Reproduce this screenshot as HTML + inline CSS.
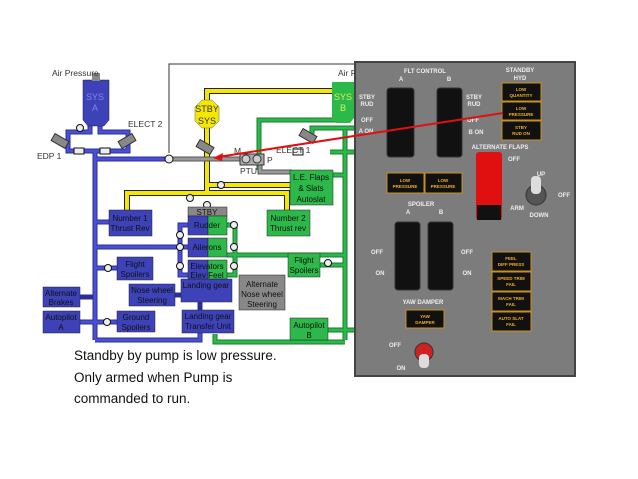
<!DOCTYPE html>
<html><head><meta charset="utf-8"><style>
body{margin:0;background:#fff;width:638px;height:479px;overflow:hidden}
svg{display:block}
text{font-family:"Liberation Sans",sans-serif}
.p{font-family:"Liberation Mono",monospace;fill:#eee;font-size:6px;font-weight:bold}
.a{font-family:"Liberation Mono",monospace;fill:#f0b020;font-size:4.5px;font-weight:bold}
</style></head><body>
<svg width="638" height="479" viewBox="0 0 638 479">
<polyline points="169,153 169,64 360,64" fill="none" stroke="#333" stroke-width="1"/>
<g fill="none" stroke="#222" stroke-width="6">
<polyline points="207,100 207,91 335,91"/>
<line x1="207" y1="128" x2="207" y2="195"/>
<line x1="207" y1="185" x2="292" y2="185"/>
<polyline points="127,212 127,193 287,193 287,212"/>
</g>
<g fill="none" stroke="#f5e800" stroke-width="4">
<polyline points="207,100 207,91 335,91"/>
<line x1="207" y1="128" x2="207" y2="195"/>
<line x1="207" y1="185" x2="292" y2="185"/>
<polyline points="127,212 127,193 287,193 287,212"/>
</g>
<g fill="none" stroke="#1a7a30" stroke-width="5">
<polyline points="259,170 259,120 340,120"/>
<polyline points="312,135 312,128 355,128"/>
<line x1="345" y1="130" x2="345" y2="340"/>
<line x1="330" y1="152" x2="355" y2="152"/>
<polyline points="330,175 345,175"/>
<line x1="227" y1="255" x2="345" y2="255"/>
<polyline points="227,225 235,225 235,275 227,275"/>
<line x1="320" y1="265" x2="345" y2="265"/>
<line x1="328" y1="330" x2="355" y2="330"/>
<polyline points="215,334 215,342 345,342"/>
</g>
<g fill="none" stroke="#2db84a" stroke-width="3">
<polyline points="259,170 259,120 340,120"/>
<polyline points="312,135 312,128 355,128"/>
<line x1="345" y1="130" x2="345" y2="340"/>
<line x1="330" y1="152" x2="355" y2="152"/>
<polyline points="330,175 345,175"/>
<line x1="227" y1="255" x2="345" y2="255"/>
<polyline points="227,225 235,225 235,275 227,275"/>
<line x1="320" y1="265" x2="345" y2="265"/>
<line x1="328" y1="330" x2="355" y2="330"/>
<polyline points="215,334 215,342 345,342"/>
</g>
<g fill="none" stroke="#555" stroke-width="5">
<line x1="169" y1="159" x2="240" y2="159"/>
<polyline points="235,159 260,159 260,172 292,172"/>
<polyline points="250,298 250,290 258,290"/>
</g>
<g fill="none" stroke="#999" stroke-width="3">
<line x1="169" y1="159" x2="240" y2="159"/>
<polyline points="235,159 260,159 260,172 292,172"/>
</g>
<g fill="none" stroke="#2a2e9a" stroke-width="5">
<polyline points="90,123 90,132 68,132 68,151 128,151 128,132 100,132 100,123"/>
<line x1="95" y1="151" x2="95" y2="340"/>
<line x1="95" y1="159" x2="169" y2="159"/>
<line x1="95" y1="222" x2="109" y2="222"/>
<line x1="95" y1="247" x2="188" y2="247"/>
<line x1="95" y1="268" x2="117" y2="268"/>
<line x1="80" y1="297" x2="95" y2="297"/>
<line x1="80" y1="322" x2="117" y2="322"/>
<polyline points="95,340 200,340 200,333"/>
<polyline points="188,225 180,225 180,275 188,275"/>
<line x1="200" y1="302" x2="200" y2="310"/>
<line x1="175" y1="295" x2="181" y2="295"/>
</g>
<g fill="none" stroke="#4a50d0" stroke-width="3">
<polyline points="90,123 90,132 68,132 68,151 128,151 128,132 100,132 100,123"/>
<line x1="95" y1="151" x2="95" y2="340"/>
<line x1="95" y1="159" x2="169" y2="159"/>
<line x1="95" y1="222" x2="109" y2="222"/>
<line x1="95" y1="247" x2="188" y2="247"/>
<line x1="95" y1="268" x2="117" y2="268"/>
<line x1="80" y1="322" x2="117" y2="322"/>
<polyline points="95,340 200,340 200,333"/>
<polyline points="188,225 180,225 180,275 188,275"/>
</g>
<g fill="#eee" stroke="#111" stroke-width="1">
<circle cx="169" cy="159" r="4"/><circle cx="80" cy="128" r="3.5"/>
<circle cx="190" cy="198" r="3.5"/><circle cx="207" cy="205" r="3.5"/>
<circle cx="221" cy="185" r="3.5"/><circle cx="180" cy="235" r="3.5"/>
<circle cx="180" cy="247" r="3.5"/><circle cx="180" cy="266" r="3.5"/>
<circle cx="234" cy="225" r="3.5"/><circle cx="234" cy="247" r="3.5"/>
<circle cx="234" cy="266" r="3.5"/><circle cx="108" cy="268" r="3.5"/>
<circle cx="107" cy="322" r="3.5"/><circle cx="328" cy="263" r="3.5"/>
<rect x="74" y="148" width="10" height="6"/><rect x="100" y="148" width="10" height="6"/>
<rect x="293" y="149" width="10" height="6"/>
</g>
<g fill="#888" stroke="#333" stroke-width="1">
<rect x="52" y="137" width="16" height="8" transform="rotate(30 60 141)"/>
<rect x="119" y="137" width="16" height="8" transform="rotate(-30 127 141)"/>
<rect x="197" y="143" width="16" height="8" transform="rotate(30 205 147)"/>
<rect x="300" y="132" width="16" height="8" transform="rotate(30 308 136)"/>
<rect x="240" y="154" width="24" height="11" fill="#aaa"/>
<circle cx="246" cy="159" r="4" fill="#ccc"/><circle cx="257" cy="159" r="4" fill="#ccc"/>
</g>
<path d="M83,80 h26 v40 l-5,6 h-16 l-5,-6z" fill="#3d42b8" stroke="#222" stroke-width="0.5"/>
<rect x="92" y="73" width="8" height="8" fill="#888"/>
<text x="95" y="100" text-anchor="middle" font-size="9" fill="#7f86ee">SYS</text>
<text x="95" y="111" text-anchor="middle" font-size="9" fill="#7f86ee">A</text>
<path d="M332,82 h22 v36 l-4,5 h-14 l-4,-5z" fill="#2db84a"/>
<text x="343" y="100" text-anchor="middle" font-size="9" fill="#d8f060">SYS</text>
<text x="343" y="111" text-anchor="middle" font-size="9" fill="#d8f060">B</text>
<path d="M195,107 l7,-7 h10 l7,7 v14 l-7,7 h-10 l-7,-7z" fill="#f5e800" stroke="#666" stroke-width="0.5"/>
<text x="207" y="112" text-anchor="middle" font-size="9" fill="#333">STBY</text>
<text x="207" y="124" text-anchor="middle" font-size="9" fill="#333">SYS</text>
<g font-size="8.5" fill="#333">
<text x="52" y="76">Air Pressure</text><text x="128" y="127">ELECT 2</text>
<text x="37" y="159">EDP 1</text><text x="276" y="153">ELECT 1</text>
<text x="234" y="154">M</text><text x="267" y="163">P</text><text x="240" y="174">PTU</text>
<text x="338" y="76">Air P</text>
</g>
<g stroke="#222" stroke-width="0.5">
<rect x="109" y="210" width="43" height="26" fill="#3d42b8"/>
<rect x="117" y="257" width="36" height="23" fill="#3d42b8"/>
<rect x="43" y="287" width="37" height="20" fill="#3d42b8"/>
<rect x="43" y="311" width="37" height="22" fill="#3d42b8"/>
<rect x="129" y="284" width="46" height="22" fill="#3d42b8"/>
<rect x="117" y="311" width="38" height="21" fill="#3d42b8"/>
<rect x="181" y="279" width="51" height="23" fill="#3d42b8"/>
<rect x="182" y="310" width="52" height="23" fill="#3d42b8"/>
<rect x="188" y="207" width="39" height="9" fill="#888"/>
<rect x="188" y="216" width="20" height="19" fill="#3d42b8"/><rect x="208" y="216" width="19" height="19" fill="#2db84a"/>
<rect x="188" y="238" width="20" height="19" fill="#3d42b8"/><rect x="208" y="238" width="19" height="19" fill="#2db84a"/>
<rect x="188" y="260" width="20" height="19" fill="#3d42b8"/><rect x="208" y="260" width="19" height="19" fill="#2db84a"/>
<rect x="239" y="275" width="46" height="35" fill="#888"/>
<rect x="290" y="170" width="43" height="35" fill="#2db84a"/>
<rect x="267" y="210" width="43" height="26" fill="#2db84a"/>
<rect x="288" y="253" width="32" height="24" fill="#2db84a"/>
<rect x="290" y="318" width="38" height="22" fill="#2db84a"/>
</g>
<g font-size="8" fill="#111" text-anchor="middle">
<text x="130" y="221">Number 1</text><text x="130" y="231">Thrust Rev</text>
<text x="135" y="267">Flight</text><text x="135" y="277">Spoilers</text>
<text x="61" y="296">Alternate</text><text x="61" y="305">Brakes</text>
<text x="61" y="320">Autopilot</text><text x="61" y="330">A</text>
<text x="152" y="293">Nose wheel</text><text x="152" y="303">Steering</text>
<text x="136" y="320">Ground</text><text x="136" y="330">Spoilers</text>
<text x="206" y="288">Landing gear</text>
<text x="208" y="319">Landing gear</text><text x="208" y="329">Transfer Unit</text>
<text x="207" y="215">STBY</text><text x="207" y="228">Rudder</text><text x="207" y="250">Ailerons</text>
<text x="207" y="269">Elevators</text><text x="207" y="278">Elev Feel</text>
<text x="262" y="287">Alternate</text><text x="262" y="297">Nose wheel</text><text x="262" y="307">Steering</text>
<text x="311" y="180">L.E. Flaps</text><text x="311" y="191">&amp; Slats</text><text x="311" y="202">Autoslat</text>
<text x="288" y="221">Number 2</text><text x="288" y="231">Thrust rev</text>
<text x="304" y="263">Flight</text><text x="304" y="273">Spoilers</text>
<text x="309" y="328">Autopilot</text><text x="309" y="338">B</text>
</g>
<g font-size="13.5" fill="#111">
<text x="74" y="360">Standby by pump is low pressure.</text>
<text x="74" y="382">Only armed when Pump is</text>
<text x="74" y="403">commanded to run.</text>
</g>
<rect x="355" y="62" width="220" height="314" fill="#7c7c7c" stroke="#444" stroke-width="2"/>
<g class="p" text-anchor="middle">
<text x="425" y="73">FLT CONTROL</text><text x="401" y="81">A</text><text x="449" y="81">B</text>
<text x="367" y="99">STBY</text><text x="367" y="106">RUD</text><text x="367" y="122">OFF</text><text x="366" y="133">A ON</text>
<text x="474" y="99">STBY</text><text x="474" y="106">RUD</text><text x="473" y="122">OFF</text><text x="476" y="134">B ON</text>
<text x="520" y="72">STANDBY</text><text x="520" y="80">HYD</text>
<text x="500" y="149">ALTERNATE FLAPS</text>
<text x="514" y="161">OFF</text><text x="517" y="210">ARM</text>
<text x="541" y="176">UP</text><text x="564" y="197">OFF</text><text x="539" y="217">DOWN</text>
<text x="421" y="206">SPOILER</text><text x="408" y="214">A</text><text x="441" y="214">B</text>
<text x="377" y="254">OFF</text><text x="380" y="275">ON</text><text x="467" y="254">OFF</text><text x="467" y="275">ON</text>
<text x="423" y="304">YAW DAMPER</text>
<text x="395" y="347">OFF</text><text x="401" y="370">ON</text>
</g>
<g fill="#111" stroke="#333">
<rect x="387" y="88" width="27" height="69" rx="3"/><rect x="437" y="88" width="25" height="69" rx="3"/>
<rect x="395" y="222" width="25" height="68" rx="3"/><rect x="428" y="222" width="25" height="68" rx="3"/>
</g>
<rect x="476" y="152" width="26" height="68" rx="3" fill="#e01010"/>
<rect x="477" y="205" width="24" height="15" fill="#111"/>
<circle cx="536" cy="195" r="10" fill="#555" stroke="#333"/><rect x="531" y="176" width="10" height="18" rx="4" fill="#ddd"/>
<circle cx="424" cy="352" r="9" fill="#d02020" stroke="#333"/><rect x="419" y="354" width="10" height="14" rx="4" fill="#ddd"/>
<g fill="#111" stroke="#c89020" stroke-width="1">
<rect x="502" y="83" width="39" height="18"/><rect x="502" y="102" width="39" height="18"/><rect x="502" y="121" width="39" height="19"/>
<rect x="387" y="173" width="37" height="20"/><rect x="425" y="173" width="37" height="20"/>
<rect x="406" y="310" width="38" height="18"/>
<rect x="492" y="252" width="39" height="19"/><rect x="492" y="272" width="39" height="19"/><rect x="492" y="292" width="39" height="19"/><rect x="492" y="312" width="39" height="19"/>
</g>
<g class="a" text-anchor="middle">
<text x="521" y="91">LOW</text><text x="521" y="97">QUANTITY</text>
<text x="521" y="110">LOW</text><text x="521" y="116">PRESSURE</text>
<text x="521" y="129">STBY</text><text x="521" y="135">RUD ON</text>
<text x="405" y="182">LOW</text><text x="405" y="188">PRESSURE</text>
<text x="443" y="182">LOW</text><text x="443" y="188">PRESSURE</text>
<text x="425" y="318">YAW</text><text x="425" y="324">DAMPER</text>
<text x="511" y="260">FEEL</text><text x="511" y="266">DIFF PRESS</text>
<text x="511" y="280">SPEED TRIM</text><text x="511" y="286">FAIL</text>
<text x="511" y="300">MACH TRIM</text><text x="511" y="306">FAIL</text>
<text x="511" y="320">AUTO SLAT</text><text x="511" y="326">FAIL</text>
</g>
<line x1="503" y1="113" x2="218" y2="157" stroke="#e01010" stroke-width="2"/>
<path d="M213,158 l10,-5 l-1,8z" fill="#e01010"/>
</svg>
</body></html>
